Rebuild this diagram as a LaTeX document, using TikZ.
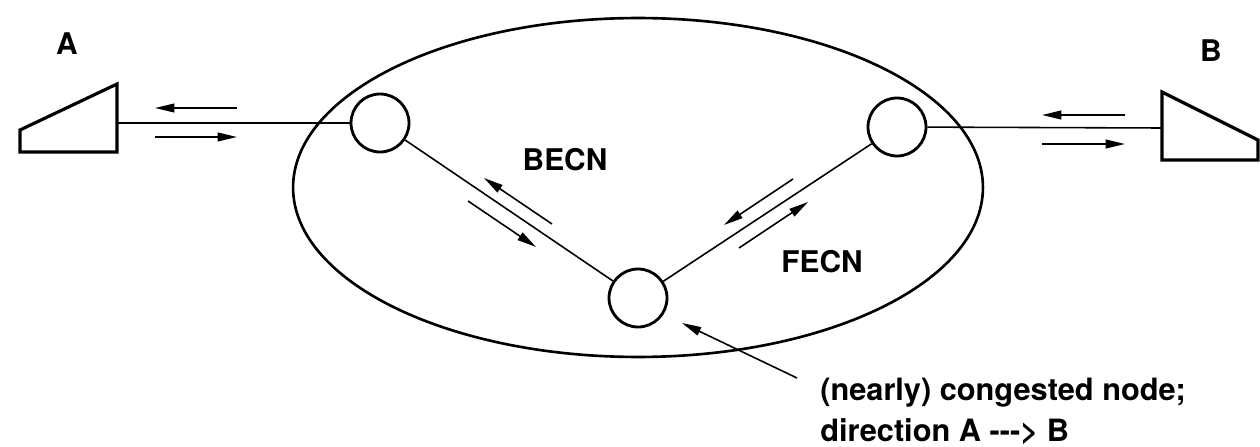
\documentclass[tikz,border=0pt]{standalone}
\usepackage{fontspec}
\setmainfont{TeX Gyre Heros}
\usetikzlibrary{arrows.meta}

\begin{document}
\begin{tikzpicture}[x=0.02cm,y=-0.02cm,
    hub/.style={draw,circle,line width=1.6pt,minimum size=1.16cm,inner sep=0pt},
    link/.style={line width=0.9pt},
    flow/.style={line width=0.9pt,-{Triangle[length=11pt,width=5pt]}},
    term/.style={line width=1.8pt,line join=miter},
    lbl/.style={font=\fontsize{17}{20}\selectfont\bfseries}]
  \useasboundingbox (0,0) rectangle (1260,446);
  % network cloud
  \draw[line width=1.5pt] (638,187.5) ellipse [x radius=6.9cm, y radius=3.39cm];
  \node[hub] (nl) at (380,123) {};
  \node[hub] (nr) at (897,127) {};
  \node[hub] (nc) at (638,298) {};
  % end stations
  \draw[term] (20,130) -- (20,152) -- (117,152) -- (117,84) -- cycle;
  \draw[term] (1162,92) -- (1258,140) -- (1258,160) -- (1162,160) -- cycle;
  \coordinate (ta) at (117,123);
  \coordinate (tb) at (1162,128);
  \draw[link] (ta) -- (nl);
  \draw[link] (nr) -- (tb);
  \draw[link] (nl) -- (nc);
  \draw[link] (nc) -- (nr);
  % traffic directions
  \draw[flow] (237,108) -- (155,108);
  \draw[flow] (155,137) -- (237,137);
  \draw[flow] (1125,115) -- (1042,115);
  \draw[flow] (1042,144) -- (1125,144);
  \draw[flow] (552,224) -- (484,178);
  \draw[flow] (468,201) -- (536,247);
  \draw[flow] (793,179) -- (724,225);
  \draw[flow] (739,248) -- (808,202);
  % labels
  \node[lbl] (la) at (67,44) {A};
  \node[lbl] (lb) at (1211,51) {B};
  \node[lbl] (becn) at (565,160) {BECN};
  \node[lbl] (fecn) at (822,262) {FECN};
  \node[font=\fontsize{17.5}{23}\selectfont\bfseries,align=left,anchor=north west,inner sep=0pt]
    (note) at (820,378) {(nearly) congested node;\\direction A -{}-{}-> B};
  \coordinate (ptr) at (797,378);
  \coordinate (ptip) at (682,323);
  \draw[flow] (ptr) -- (ptip);
\end{tikzpicture}
\end{document}
